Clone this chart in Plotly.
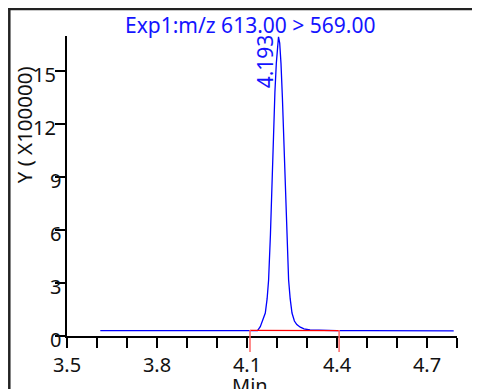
import plotly.graph_objects as go

# Chromatogram data (time in min, intensity in units of 100000)
times = [3.611, 3.70, 3.80, 3.90, 4.00, 4.08, 4.12, 4.135, 4.1443, 4.152, 4.161, 4.167,
         4.172, 4.178, 4.1833, 4.1887, 4.193, 4.1977, 4.201, 4.205, 4.209, 4.2133,
         4.218, 4.222, 4.2277, 4.233, 4.2387, 4.244, 4.250, 4.258, 4.266, 4.2777,
         4.29, 4.31, 4.35, 4.40, 4.50, 4.60, 4.70, 4.789]
intensity = [0.31, 0.31, 0.31, 0.30, 0.30, 0.30, 0.30, 0.31, 0.53, 0.85, 1.30, 2.10,
             3.17, 5.70, 8.84, 11.67, 13.80, 15.45, 16.40, 16.95, 16.60, 15.45,
             13.50, 11.67, 8.84, 6.20, 3.17, 2.10, 1.30, 0.85, 0.65, 0.50,
             0.40, 0.34, 0.31, 0.30, 0.30, 0.29, 0.29, 0.29]

peak_rt_label = "4.193"
peak_label_x = 4.161
peak_label_y = 15.58

integ_start = 4.11
integ_end = 4.407
integ_level = [0.32, 0.30]

x_tickvals = [3.5, 3.6, 3.7, 3.8, 3.9, 4.0, 4.1, 4.2, 4.3, 4.4, 4.5, 4.6, 4.7, 4.8]
x_ticktext = ["3.5", "", "", "3.8", "", "", "4.1", "", "", "4.4", "", "", "4.7", ""]
y_tickvals = [0, 3, 6, 9, 12, 15]
y_ticktext = ["0", "3", "6", "9", "12", "15"]

title_text = "Exp1:m/z 613.00 > 569.00"
y_title = "Y ( X100000)"
x_title = "Min"

# page body has an 8px margin; work in window pixels and convert
OFF = 8
W, H = 472, 381
ML, MT = 58.7, 28
PW, PH = 390, 300
MR = W - ML - PW
MB = H - MT - PH

def px_x(p):
    return (p - OFF - ML) / PW

def px_y(p):
    return (H - MB - (p - OFF)) / PH

FONT = "Noto Sans, Open Sans, sans-serif"
BLUE = "#1414ff"
INK = "#111111"

fig = go.Figure()
fig.add_trace(go.Scatter(x=times, y=intensity, mode="lines",
                         line=dict(color="#0000ff", width=1.3), hoverinfo="skip"))
fig.add_trace(go.Scatter(x=[integ_start, integ_end], y=integ_level, mode="lines",
                         line=dict(color="#ff0000", width=1.3), hoverinfo="skip"))

shapes = []
for xv in [integ_start, integ_end]:
    shapes.append(dict(type="line", xref="x", yref="paper", x0=xv, x1=xv,
                       y0=px_y(330), y1=px_y(352),
                       line=dict(color="#ff6666", width=1.5)))
# outer frame (top and left)
shapes.append(dict(type="line", xref="paper", yref="paper", x0=px_x(OFF), x1=px_x(480),
                   y0=px_y(OFF + 1), y1=px_y(OFF + 1), line=dict(color="#222222", width=2.5)))
shapes.append(dict(type="line", xref="paper", yref="paper", x0=px_x(OFF + 1), x1=px_x(OFF + 1),
                   y0=px_y(OFF), y1=px_y(389), line=dict(color="#222222", width=2.5)))

annotations = [
    dict(text=title_text, xref="paper", yref="paper", x=px_x(250), y=px_y(25),
         xanchor="center", yanchor="middle", showarrow=False,
         font=dict(family=FONT, size=21, color=BLUE)),
    dict(text=peak_rt_label, xref="x", yref="y", x=peak_label_x, y=peak_label_y,
         xanchor="center", yanchor="middle", showarrow=False, textangle=-90,
         font=dict(family=FONT, size=21, color=BLUE)),
    dict(text=y_title, xref="paper", yref="paper", x=px_x(24), y=px_y(125),
         xanchor="center", yanchor="middle", showarrow=False, textangle=-90,
         font=dict(family=FONT, size=20.5, color=INK)),
    dict(text=x_title, xref="paper", yref="paper", x=px_x(250), y=px_y(385),
         xanchor="center", yanchor="middle", showarrow=False,
         font=dict(family=FONT, size=20, color=INK)),
]
# y tick labels as annotations (right edge slightly overlapping the ticks)
for v, t in zip(y_tickvals, y_ticktext):
    right = 63 if len(t) == 1 else 58
    annotations.append(dict(text=t, xref="paper", yref="y", x=px_x(right), y=v,
                            xanchor="right", yanchor="middle", yshift=-3.5,
                            showarrow=False,
                            font=dict(family=FONT, size=20, color=INK)))

fig.update_layout(
    width=W, height=H,
    margin=dict(l=ML, r=MR, t=MT, b=MB, pad=0, autoexpand=False),
    paper_bgcolor="white", plot_bgcolor="white",
    showlegend=False,
    shapes=shapes, annotations=annotations,
    font=dict(family=FONT, size=20, color=INK),
    xaxis=dict(range=[3.5, 4.8], tickvals=x_tickvals, ticktext=x_ticktext,
               ticks="outside", ticklen=10, tickwidth=2, tickcolor="black",
               showline=True, linecolor="black", linewidth=2, automargin=False,
               showgrid=False, zeroline=False, ticklabelstandoff=0,
               tickfont=dict(family=FONT, size=20, color=INK)),
    yaxis=dict(range=[0, 17.0], tickvals=y_tickvals, showticklabels=False,
               ticks="outside", ticklen=10, tickwidth=2, tickcolor="black",
               showline=True, linecolor="black", linewidth=2, automargin=False,
               showgrid=False, zeroline=False),
)

fig.write_html("out.html")
